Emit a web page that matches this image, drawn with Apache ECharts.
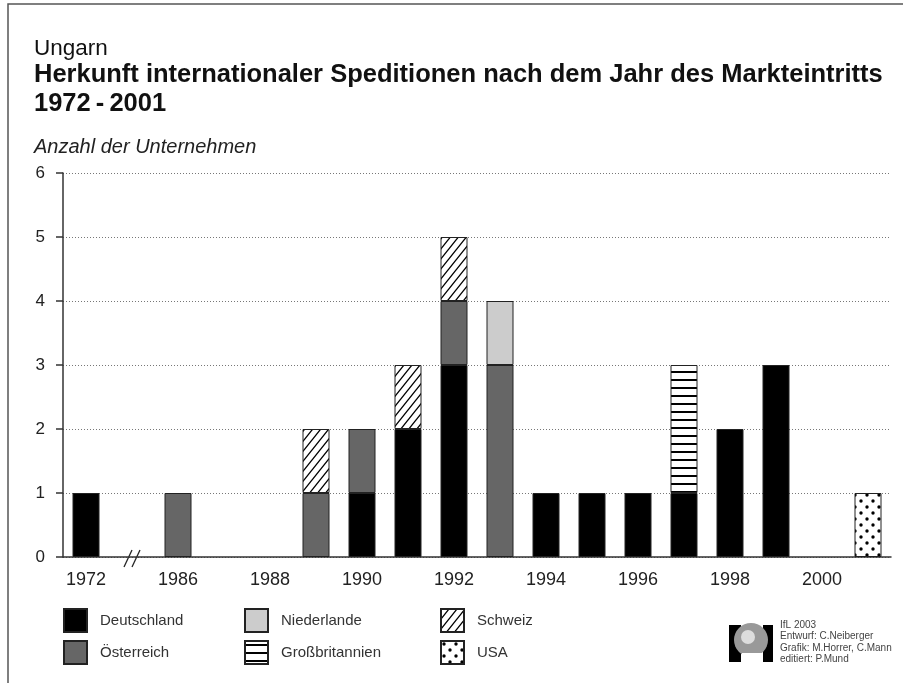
<!DOCTYPE html>
<html>
<head>
<meta charset="utf-8">
<script src="https://cdn.jsdelivr.net/npm/echarts@6/dist/echarts.min.js"></script>
<style>
  html, body { margin: 0; padding: 0; background: #fff; }
  #chart { width: 903px; height: 683px; }
</style>
</head>
<body>
<div id="chart"></div>
<script>
// categories (second slot is the axis break between 1972 and 1986)
const years = ['1972', '', '1986', '1987', '1988', '1989', '1990', '1991', '1992', '1993', '1994', '1995', '1996', '1997', '1998', '1999', '2000', '2001']
const xTickLabels = ['1972', '1986', '1988', '1990', '1992', '1994', '1996', '1998', '2000']
const yTicks = [0, 1, 2, 3, 4, 5, 6]

const deutschland    = [1, null, null, null, null, null, 1, 2, 3, null, 1, 1, 1, 1, 2, 3, null, null]
const oesterreich    = [null, null, 1, null, null, 1, 1, null, 1, 3, null, null, null, null, null, null, null, null]
const niederlande    = [null, null, null, null, null, null, null, null, null, 1, null, null, null, null, null, null, null, null]
const schweiz        = [null, null, null, null, null, 1, null, 1, 1, null, null, null, null, null, null, null, null, null]
const grossbritannien = [null, null, null, null, null, null, null, null, null, null, null, null, null, 2, null, null, null, null]
const usa            = [null, null, null, null, null, null, null, null, null, null, null, null, null, null, null, null, null, 1]

const FONT = '"Liberation Sans", Arial, Helvetica, sans-serif'

// fill patterns
const makePattern = (w, h, draw) => {
  const c = document.createElement('canvas')
  c.width = w
  c.height = h
  const ctx = c.getContext('2d')
  ctx.fillStyle = '#fff'
  ctx.fillRect(0, 0, w, h)
  ctx.fillStyle = '#000'
  ctx.strokeStyle = '#000'
  draw(ctx)
  return { image: c, repeat: 'repeat' }
}

const diagPattern = makePattern(8, 10, ctx => {
  ctx.lineWidth = 1.3
  ctx.beginPath()
  ctx.moveTo(-1, 11.25); ctx.lineTo(9, -1.25)
  ctx.moveTo(-2, 2.5); ctx.lineTo(2, -2.5)
  ctx.moveTo(6, 12.5); ctx.lineTo(10, 7.5)
  ctx.stroke()
})

const stripePattern = makePattern(8, 8, ctx => {
  ctx.fillRect(0, 3, 8, 2)
})

const dotPattern = makePattern(12, 12, ctx => {
  ctx.beginPath()
  ctx.arc(3, 3, 1.7, 0, Math.PI * 2)
  ctx.fill()
  ctx.beginPath()
  ctx.arc(9, 9, 1.7, 0, Math.PI * 2)
  ctx.fill()
})

const chart = echarts.init(document.getElementById('chart'))

const barSeries = (name, data, color) => ({
  name,
  type: 'bar',
  stack: 'total',
  data,
  barWidth: 27,
  itemStyle: { color, borderColor: '#222', borderWidth: 1 },
  emphasis: { disabled: true }
})

const legendBase = {
  orient: 'vertical',
  top: 608,
  padding: 0,
  itemWidth: 23,
  itemHeight: 23,
  itemGap: 7,
  icon: 'rect',
  selectedMode: false,
  textStyle: { fontFamily: FONT, fontSize: 15, color: '#333', padding: [0, 0, 0, 8] }
}

const option = {
  animation: false,
  backgroundColor: '#fff',
  title: [
    {
      text: 'Ungarn',
      left: 29, top: 32,
      textStyle: { fontFamily: FONT, fontSize: 22.5, fontWeight: 'normal', color: '#111' }
    },
    {
      text: 'Herkunft internationaler Speditionen nach dem Jahr des Markteintritts\n1972\u2009-\u20092001',
      left: 29, top: 55,
      textStyle: { fontFamily: FONT, fontSize: 25.5, fontWeight: 'bold', color: '#111', lineHeight: 29 }
    },
    {
      text: 'Anzahl der Unternehmen',
      left: 29, top: 132,
      textStyle: { fontFamily: FONT, fontSize: 20, fontWeight: 'normal', fontStyle: 'italic', color: '#222' }
    }
  ],
  legend: [
    Object.assign({}, legendBase, { left: 63, data: ['Deutschland', 'Österreich'] }),
    Object.assign({}, legendBase, { left: 244, data: ['Niederlande', 'Großbritannien'] }),
    Object.assign({}, legendBase, { left: 440, data: ['Schweiz', 'USA'] })
  ],
  grid: { left: 63, right: 12, top: 173, bottom: 126 },
  xAxis: {
    type: 'category',
    data: years,
    axisLine: { lineStyle: { color: '#333', width: 1.5 } },
    axisTick: { interval: 0, length: 8, lineStyle: { color: '#333', width: 1.5 } },
    axisLabel: {
      interval: 0,
      margin: 14,
      fontFamily: FONT,
      fontSize: 18,
      color: '#222',
      formatter: v => (xTickLabels.includes(v) ? v : '')
    }
  },
  yAxis: {
    type: 'value',
    min: yTicks[0],
    max: yTicks[yTicks.length - 1],
    interval: 1,
    axisLine: { show: true, lineStyle: { color: '#333', width: 1.5 } },
    axisTick: { show: true, length: 7, lineStyle: { color: '#333', width: 1.5 } },
    axisLabel: { margin: 18, fontFamily: FONT, fontSize: 17, color: '#222' },
    splitLine: { lineStyle: { color: '#777', type: [1, 2], width: 1 } }
  },
  series: [
    barSeries('Deutschland', deutschland, '#000'),
    barSeries('Österreich', oesterreich, '#666'),
    barSeries('Niederlande', niederlande, '#ccc'),
    barSeries('Schweiz', schweiz, diagPattern),
    barSeries('Großbritannien', grossbritannien, stripePattern),
    barSeries('USA', usa, dotPattern)
  ]
}

chart.setOption(option)

// frame, axis break and credits
const bx = chart.convertToPixel({ xAxisIndex: 0 }, 1)
const by = chart.convertToPixel({ yAxisIndex: 0 }, 0)

chart.setOption({
  graphic: [
    {
      type: 'polyline',
      shape: { points: [[8, 683], [8, 4], [903, 4]] },
      style: { stroke: '#555', lineWidth: 1.5, fill: null }
    },
    {
      type: 'line',
      shape: { x1: bx - 8, y1: by + 10, x2: bx, y2: by - 7 },
      style: { stroke: '#222', lineWidth: 1.3 }
    },
    {
      type: 'line',
      shape: { x1: bx, y1: by + 10, x2: bx + 8, y2: by - 7 },
      style: { stroke: '#222', lineWidth: 1.3 }
    },
    {
      type: 'group',
      left: 729, top: 623,
      children: [
        { type: 'rect', shape: { x: 0, y: 0, width: 12, height: 37 }, style: { fill: '#000' } },
        { type: 'rect', shape: { x: 34, y: 0, width: 10, height: 37 }, style: { fill: '#000' } },
        { type: 'circle', shape: { cx: 22, cy: 15, r: 17 }, style: { fill: '#999' } },
        { type: 'circle', shape: { cx: 19, cy: 12, r: 7 }, style: { fill: '#ddd' } },
        { type: 'rect', shape: { x: 13, y: 28, width: 21, height: 9 }, style: { fill: '#fff' } }
      ]
    },
    {
      type: 'text',
      left: 780, top: 619,
      style: {
        text: 'IfL 2003\nEntwurf: C.Neiberger\nGrafik: M.Horrer, C.Mann\neditiert: P.Mund',
        font: '10px ' + FONT,
        lineHeight: 11.5,
        fill: '#444'
      }
    }
  ]
})
</script>
</body>
</html>
